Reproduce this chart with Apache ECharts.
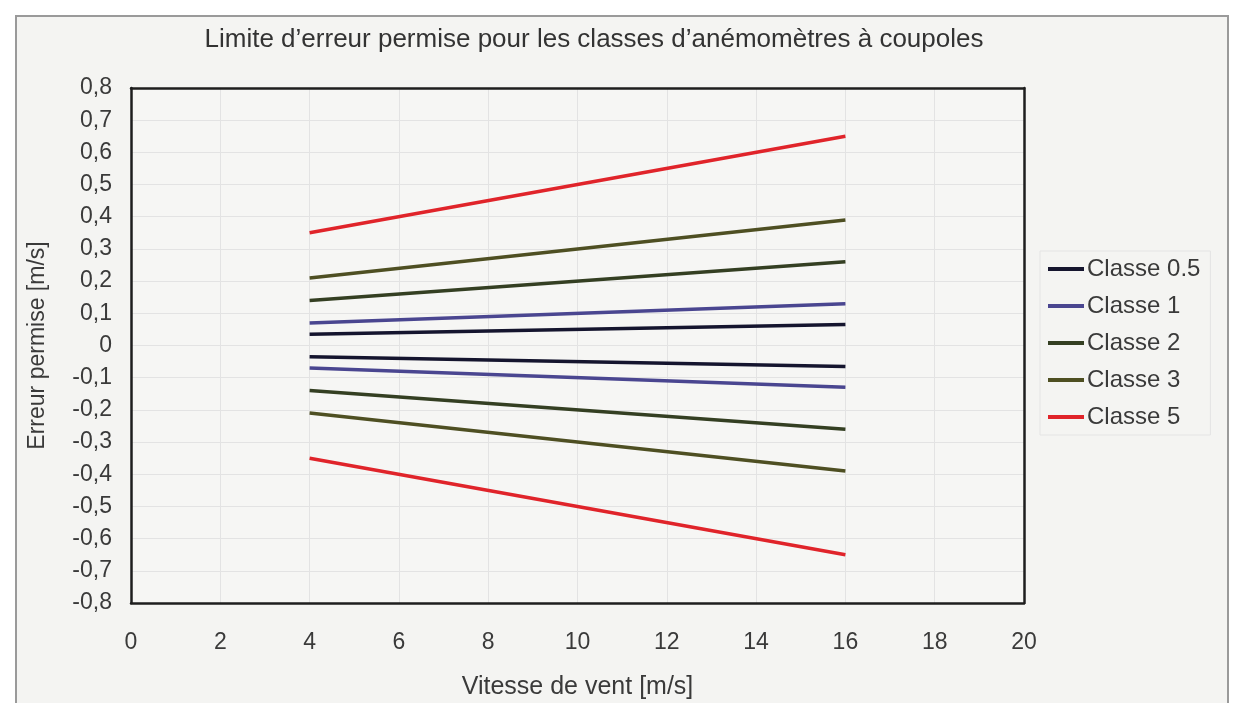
<!DOCTYPE html>
<html><head><meta charset="utf-8">
<script src="https://cdn.jsdelivr.net/npm/echarts@6/dist/echarts.min.js"></script>
<style>html,body{margin:0;padding:0;background:#fff}#c{width:1235px;height:703px}</style>
</head><body><div id="c"></div>
<script>
const xValues = [4, 16];
const classNames = ['Classe 0.5', 'Classe 1', 'Classe 2', 'Classe 3', 'Classe 5'];
const upper05 = [0.035, 0.065];
const lower05 = [-0.035, -0.065];
const upper1 = [0.07, 0.13];
const lower1 = [-0.07, -0.13];
const upper2 = [0.14, 0.26];
const lower2 = [-0.14, -0.26];
const upper3 = [0.21, 0.39];
const lower3 = [-0.21, -0.39];
const upper5 = [0.35, 0.65];
const lower5 = [-0.35, -0.65];
const colors = ['#15152e', '#4a4690', '#343f22', '#4e4f22', '#e0242a'];

const pairs = [[upper05, lower05], [upper1, lower1], [upper2, lower2], [upper3, lower3], [upper5, lower5]];
const series = [];
pairs.forEach((p, i) => {
  p.forEach(arr => {
    series.push({
      name: classNames[i], type: 'line', symbol: 'none',
      data: xValues.map((x, k) => [x, arr[k]]),
      lineStyle: { color: colors[i], width: 3.5 }, itemStyle: { color: colors[i] }
    });
  });
});

const font = "'Liberation Sans', Arial, sans-serif";
const frameLine = { show: true, onZero: false, lineStyle: { color: '#1e1e1e', width: 2.5 } };
const chart = echarts.init(document.getElementById('c'));
chart.setOption({
  animation: false,
  backgroundColor: '#fff',
  graphic: [{ type: 'rect', left: 15, top: 15, z: -10, shape: { width: 1212, height: 700 },
    style: { fill: '#f4f4f2', stroke: '#9a9a9a', lineWidth: 2 } }],
  title: { text: "Limite d\u2019erreur permise pour les classes d\u2019anémomètres à coupoles",
    left: 589, top: 22, textAlign: 'center',
    textStyle: { fontFamily: font, fontSize: 26, fontWeight: 'normal', color: '#333' } },
  legend: { data: classNames, orient: 'vertical', left: 1040, top: 251, itemGap: 13,
    itemWidth: 36, itemHeight: 4, icon: 'rect',
    padding: [6, 10, 6, 8], borderColor: '#e4e4e4', borderWidth: 1,
    textStyle: { fontFamily: font, fontSize: 24, color: '#3a3a3a', padding: [0, 0, 0, -2] } },
  grid: { left: 131, right: 211, top: 88, bottom: 100, outerBoundsMode: 'none', containLabel: false,
    show: true, borderWidth: 0, backgroundColor: '#f6f6f4' },
  xAxis: [{ type: 'value', min: 0, max: 20, interval: 2,
    name: 'Vitesse de vent [m/s]', nameLocation: 'middle', nameGap: 72,
    nameTextStyle: { fontFamily: font, fontSize: 25, color: '#3a3a3a' },
    axisLine: frameLine, axisTick: { show: false },
    axisLabel: { fontFamily: font, fontSize: 23, color: '#3a3a3a', margin: 28 },
    splitLine: { show: true, lineStyle: { color: '#e3e3e3', width: 1 } } },
    { type: 'value', position: 'top', min: 0, max: 20, interval: 2,
    axisLine: frameLine, axisTick: { show: false }, axisLabel: { show: false }, splitLine: { show: false } }],
  yAxis: [{ type: 'value', min: -0.8, max: 0.8, interval: 0.1,
    name: 'Erreur permise [m/s]', nameLocation: 'middle', nameGap: 82,
    nameTextStyle: { fontFamily: font, fontSize: 23, color: '#3a3a3a' },
    axisLine: frameLine, axisTick: { show: false },
    axisLabel: { fontFamily: font, fontSize: 23, color: '#3a3a3a', margin: 19,
      formatter: v => { const r = Math.round(v * 10) / 10; return r === 0 ? '0' : r.toFixed(1).replace('.', ','); } },
    splitLine: { show: true, lineStyle: { color: '#e3e3e3', width: 1 } } },
    { type: 'value', position: 'right', min: -0.8, max: 0.8, interval: 0.1,
    axisLine: frameLine, axisTick: { show: false }, axisLabel: { show: false }, splitLine: { show: false } }],
  series: series
});
</script></body></html>
